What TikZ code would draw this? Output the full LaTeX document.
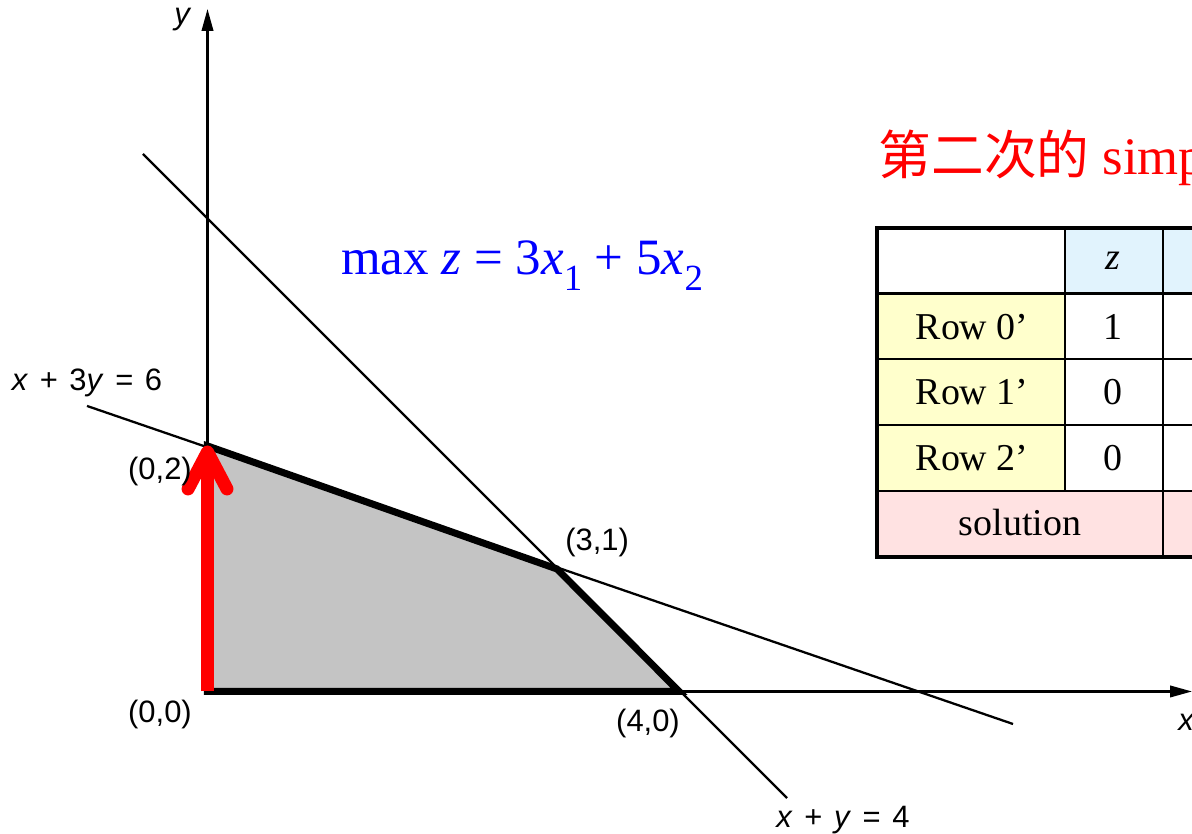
\documentclass[tikz,border=0pt]{standalone}
\usepackage{fontspec}
\setmainfont{Liberation Serif}
\newfontfamily\labelfont[WordSpace=1.35]{Liberation Sans}
\newfontfamily\cjk{Noto Sans CJK SC}
\usetikzlibrary{arrows.meta,positioning,calc}
\definecolor{regiongray}{RGB}{196,196,196}
\definecolor{headblue}{RGB}{225,243,253}
\definecolor{rowyellow}{RGB}{255,255,204}
\definecolor{solpink}{RGB}{255,226,226}
\newcommand{\lowsub}[1]{\raisebox{-0.3em}{\fontsize{10.5}{11}\selectfont #1}}

\begin{document}
\begin{tikzpicture}[x=1.179cm, y=1.2275cm,
    thinline/.style={line width=0.65pt},
    axis/.style={line width=0.65pt, -{Triangle[length=2.2mm,width=1.15mm]}},
    pointlabel/.style={font=\labelfont\fontsize{8.8}{10}\selectfont, inner sep=0pt},
    celltext/.style={font=\fontsize{10.8}{13}\selectfont, inner sep=0pt}]
  \useasboundingbox (-1.76,-1.161) rectangle (8.35,5.633);
  \clip (-1.76,-1.161) rectangle (8.35,5.633);

  % corners of the feasible region
  \coordinate (O) at (0,0);
  \coordinate (A) at (4,0);
  \coordinate (B) at (2.964,0.998);
  \coordinate (C) at (0,2);
  \filldraw[fill=regiongray, line width=2pt] (O) -- (A) -- (B) -- (C) -- cycle;

  % constraint lines
  \coordinate (l1a) at (-0.547,4.379);
  \coordinate (l1b) at (4.915,-0.868);
  \coordinate (l2a) at (-1.022,2.326);
  \coordinate (l2b) at (6.832,-0.265);
  \draw[thinline] (l1a) -- (l1b);
  \draw[thinline] (l2a) -- (l2b);

  % axes
  \coordinate (xend) at (8.35,0);
  \coordinate (yend) at (0,5.56);
  \draw[axis] (O) -- (xend);
  \draw[axis] (O) -- (yend);

  % red move along the y axis
  \coordinate (tip) at (0,1.951);
  \draw[red, line width=3.7pt] (O) -- (tip);
  \draw[red, line width=3.7pt, line cap=round, line join=round]
    (-0.165,1.650) -- (tip) -- (0.165,1.650);

  % labels
  \node[pointlabel] (ylab) at (-0.216,5.470) {\itshape y};
  \node[pointlabel] (xlab) at (8.30,-0.25) {\itshape x};
  \node[pointlabel] (l2lab) at (-1.022,2.513) {\textit{x} + 3\textit{y} = 6};
  \node[pointlabel] (l1lab) at (5.390,-1.047) {\textit{x} + \textit{y} = 4};
  \node[pointlabel] (Clab) at (-0.403,1.788) {(0,2)};
  \node[pointlabel] (Olab) at (-0.403,-0.191) {(0,0)};
  \node[pointlabel] (Blab) at (3.304,1.210) {(3,1)};
  \node[pointlabel] (Alab) at (3.736,-0.257) {(4,0)};

  \node[text=blue, font=\fontsize{14.5}{16}\selectfont] (obj) at (2.668,3.470)
    {max \textit{z} = 3\textit{x}\lowsub{1} + 5\textit{x}\lowsub{2}};
  \node[anchor=base west, inner sep=0pt, text=red, font=\fontsize{15}{18}\selectfont]
    (title) at (5.687,4.208) {{\cjk 第二次的} simp};

  % tableau, cut off at the right edge
  \begin{scope}[shift={(5.679,3.776)}, x=1cm, y=1cm]
    \fill[headblue] (1.88,0) rectangle (3.84,-0.655);
    \fill[rowyellow] (0,-0.655) rectangle (1.88,-2.63);
    \fill[solpink] (0,-2.63) rectangle (3.84,-3.29);
    \foreach \r in {-0.655,-1.31,-1.97,-2.63}
      \draw[line width=0.6pt] (0,\r) -- (3.84,\r);
    \draw[line width=0.6pt] (1.88,0) -- (1.88,-2.63);
    \draw[line width=0.6pt] (2.86,0) -- (2.86,-3.29);
    \draw[line width=1.2pt] (3.84,0) -- (0,0) -- (0,-3.29) -- (3.84,-3.29);

    \node[celltext] (zhead) at (2.36,-0.33) {\textit{z}};
    \node[celltext] (row0) at (0.95,-0.99) {Row 0’};
    \node[celltext] (row1) at (0.95,-1.64) {Row 1’};
    \node[celltext] (row2) at (0.95,-2.30) {Row 2’};
    \node[celltext] (z0) at (2.36,-0.99) {1};
    \node[celltext] (z1) at (2.36,-1.64) {0};
    \node[celltext] (z2) at (2.36,-2.30) {0};
    \node[celltext] (sol) at (1.43,-2.95) {solution};
  \end{scope}
\end{tikzpicture}
\end{document}
